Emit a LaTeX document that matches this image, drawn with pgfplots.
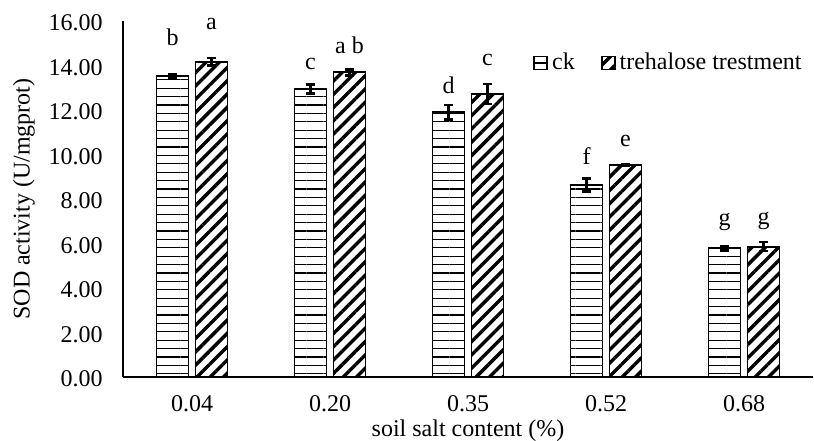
\documentclass[12pt,border=0pt]{standalone}
\usepackage{fontspec}
\setmainfont{Liberation Serif}
\usepackage{pgfplots}
\pgfplotsset{compat=1.18}
\usepackage{pgfplotstable}
\usetikzlibrary{patterns.meta}

\pgfplotstableread[col sep=comma]{
x,y,e,ly,lab
0,13.54,0.08,14.92,b
1,12.94,0.20,13.80,c
2,11.90,0.33,12.76,d
3,8.63,0.28,9.53,f
4,5.78,0.10,6.80,g
}\ckdata
\pgfplotstableread[col sep=comma]{
x,y,e,ly,lab
0,14.17,0.16,15.60,a
1,13.69,0.13,14.56,a b
2,12.72,0.45,13.98,c
3,9.53,0.05,10.34,e
4,5.86,0.20,6.85,g
}\tredata

\tikzset{
  ckpat/.style={pattern={Lines[distance=4.2pt,angle=0,line width=0.65pt]}},
  trepat/.style={pattern={Lines[distance=4.7pt,angle=45,line width=1.7pt]}},
}
\def\sh{0.1413}

\begin{document}
\begin{tikzpicture}
\begin{axis}[
  name=ax,
  scale only axis,
  width=345pt, height=178pt,
  xmin=-0.5, xmax=4.5,
  ymin=0, ymax=16,
  ytick={0,2,...,16},
  xtick={0,1,2,3,4},
  xticklabels={0.04,0.20,0.35,0.52,0.68},
  axis x line*=bottom,
  axis y line*=left,
  axis line style={line width=1pt, black},
  major tick length=0pt,
  clip=false,
  /pgf/number format/assume math mode=true,
  yticklabel={\pgfmathprintnumber[fixed,fixed zerofill,precision=2]{\tick}},
  yticklabel style={xshift=-6pt, yshift=-1pt},
  xticklabel style={yshift=-5pt},
  xlabel={soil salt content (\%)},
  ylabel={SOD activity (U/mgprot)},
  xlabel style={at={(axis description cs:0.5,-0.152)}, anchor=center},
  ylabel style={at={(axis description cs:-0.1435,0.5)}, anchor=center, rotate=0},
  legend columns=2,
  legend style={draw=none, fill=none, at={(1,0.882)}, anchor=east, xshift=-3.5pt,
    inner sep=0pt, /tikz/every even column/.append style={column sep=11pt}},
  legend image code/.code={\draw[#1] (0pt,-3.25pt) rectangle (6.5pt,3.25pt);},
]
\addplot[ybar, bar width=16pt, bar shift=0pt, draw=black, line width=0.9pt, ckpat,
  error bars/.cd, y dir=both, y explicit,
  error bar style={line width=1.2pt, black, solid},
  error mark options={rotate=90, mark size=2.4pt, line width=1.3pt, black}]
  table[x expr=\thisrow{x}-\sh, y=y, y error=e]{\ckdata};
\addlegendentry{ck}
\addplot[ybar, bar width=16pt, bar shift=0pt, draw=black, line width=0.9pt, trepat,
  error bars/.cd, y dir=both, y explicit,
  error bar style={line width=1.2pt, black, solid},
  error mark options={rotate=90, mark size=2.4pt, line width=1.3pt, black}]
  table[x expr=\thisrow{x}+\sh, y=y, y error=e]{\tredata};
\addlegendentry{trehalose trestment}
\addplot[forget plot, draw=none, mark=none, nodes near coords, point meta=explicit symbolic,
  every node near coord/.style={anchor=base, inner sep=0pt, text=black}]
  table[x expr=\thisrow{x}-\sh, y=ly, meta=lab]{\ckdata};
\addplot[forget plot, draw=none, mark=none, nodes near coords, point meta=explicit symbolic,
  every node near coord/.style={anchor=base, inner sep=0pt, text=black}]
  table[x expr=\thisrow{x}+\sh, y=ly, meta=lab]{\tredata};
\end{axis}
\pgfresetboundingbox
\path ([xshift=-61.5pt,yshift=-32pt]ax.south west) rectangle ([xshift=0.5pt,yshift=10.5pt]ax.north east);
\end{tikzpicture}
\end{document}
